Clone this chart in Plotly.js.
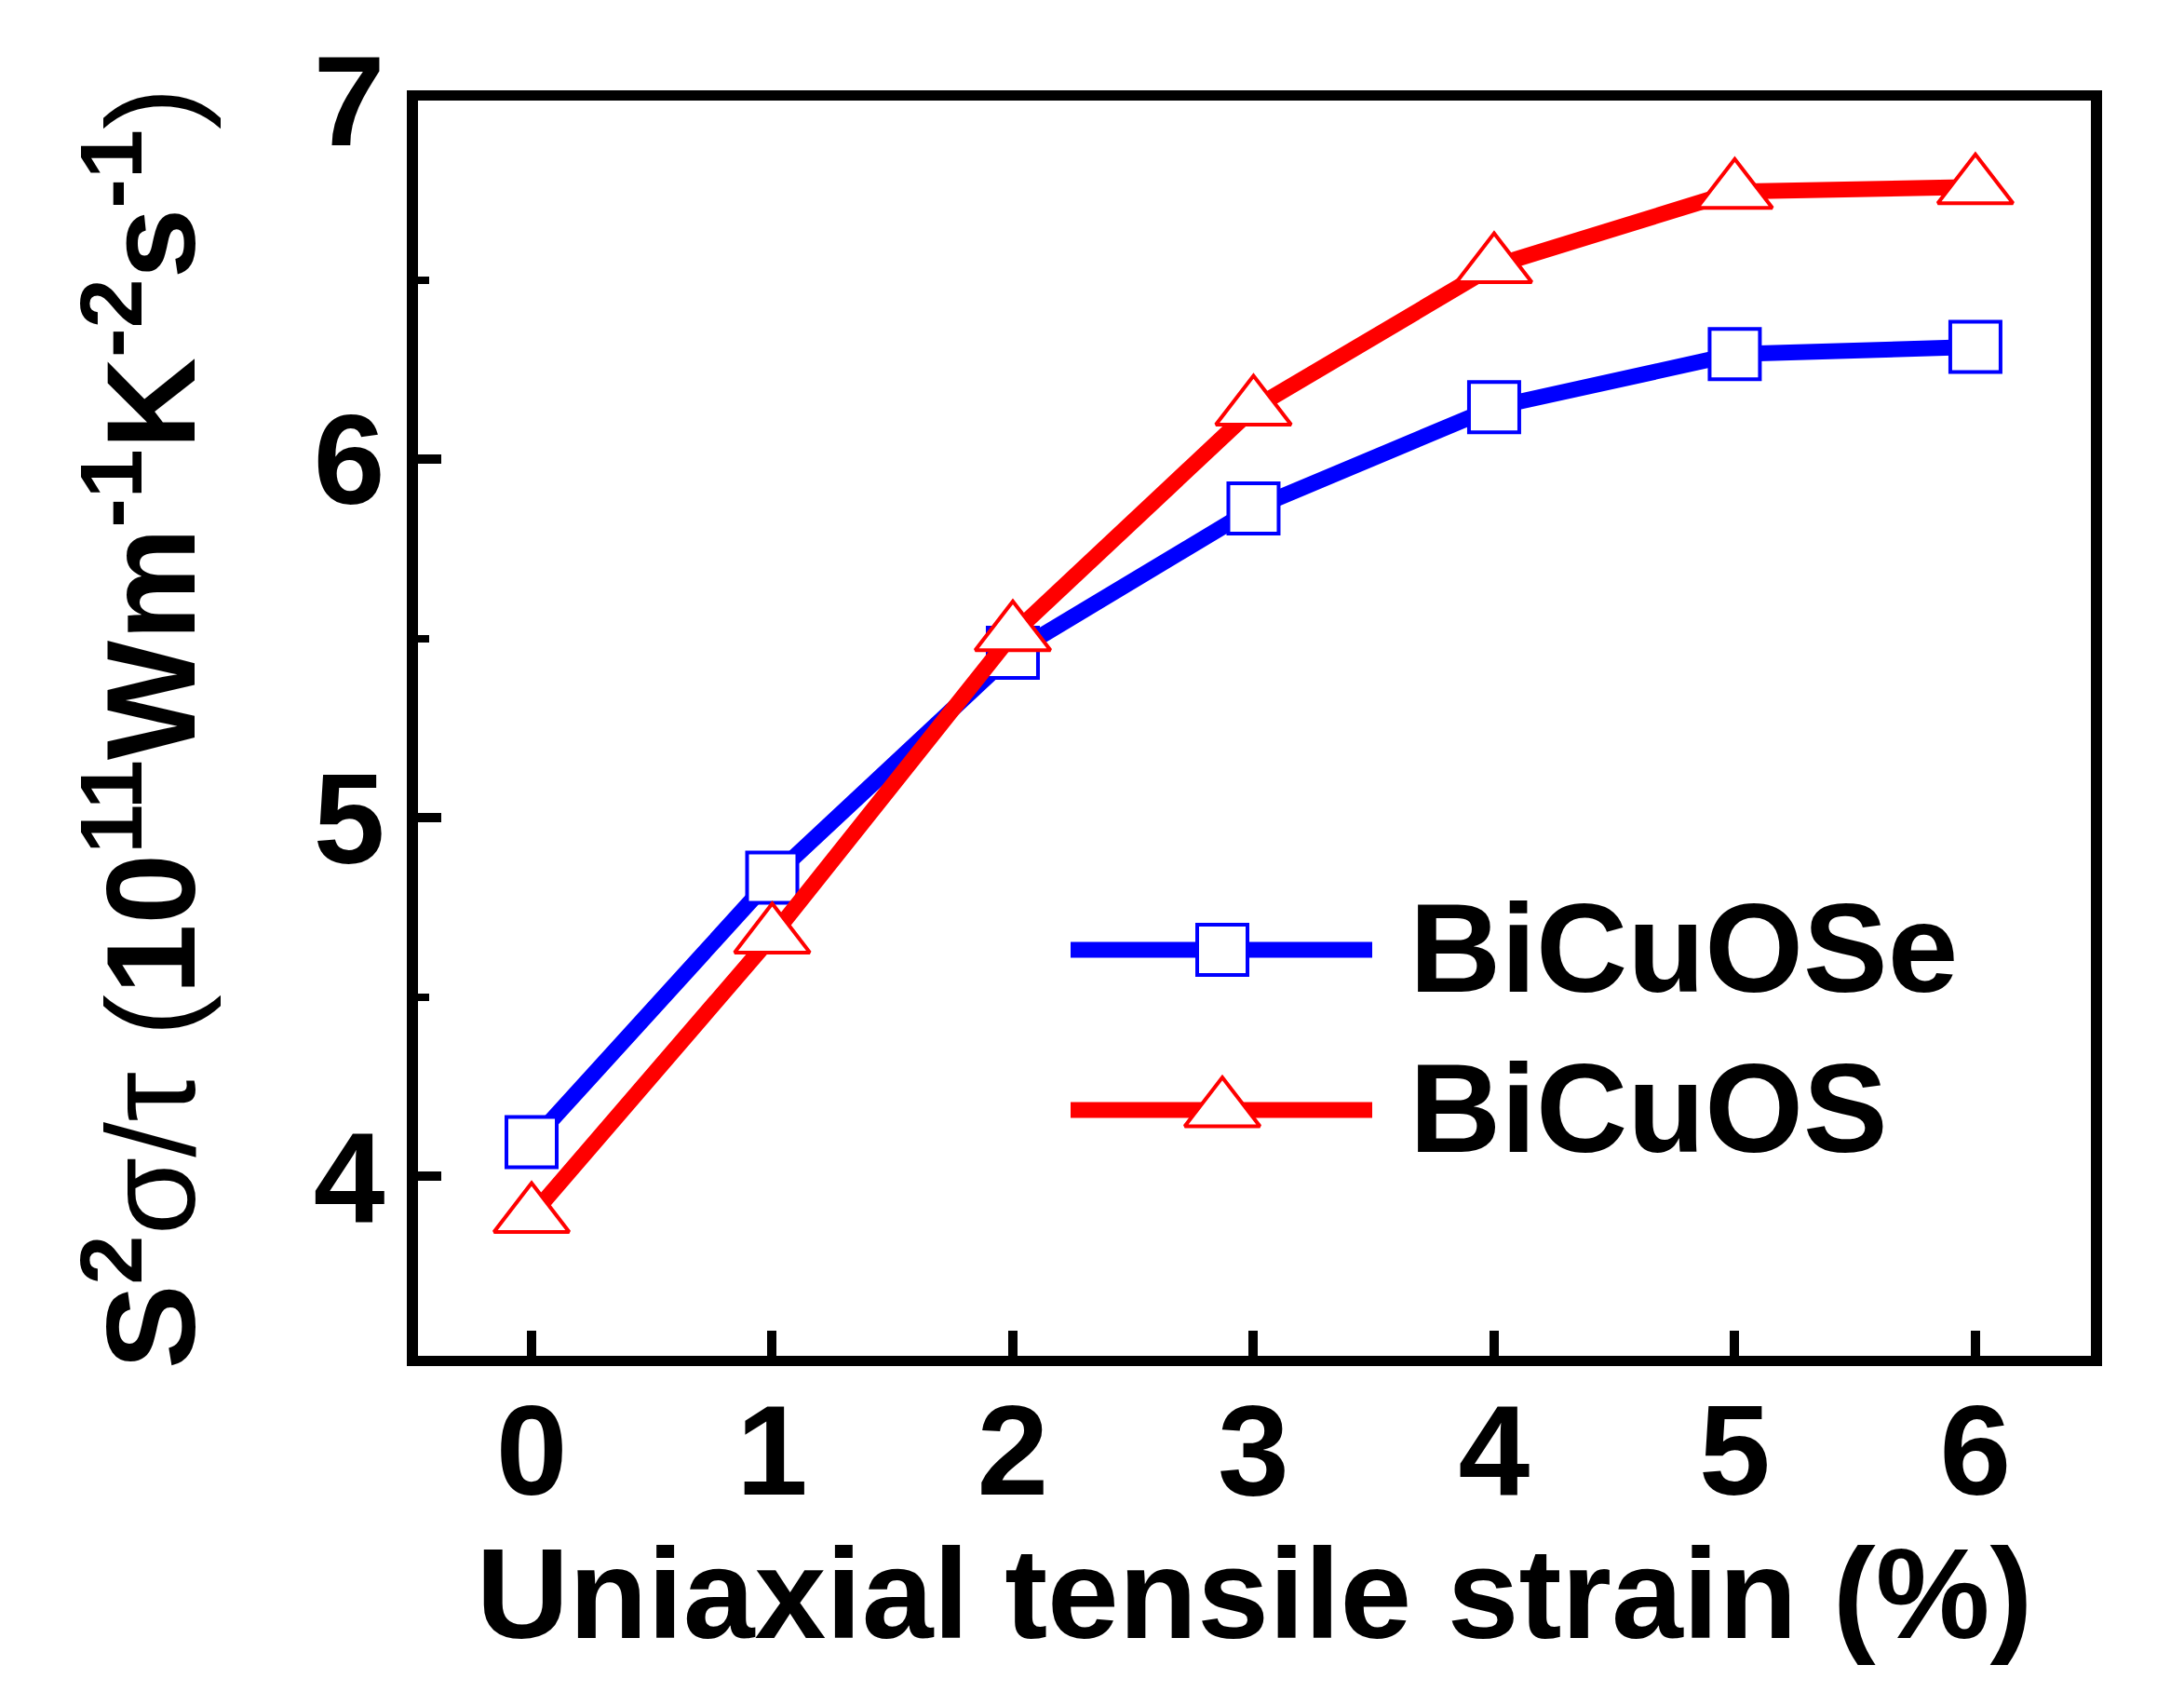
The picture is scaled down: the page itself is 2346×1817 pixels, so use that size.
<!DOCTYPE html>
<html>
<head>
<meta charset="utf-8">
<script src="https://cdn.plot.ly/plotly-3.0.1.min.js"></script>
<style>html,body{margin:0;padding:0;background:#fff;}#chart{width:2346px;height:1817px;}</style>
</head>
<body>
<div id="chart"></div>
<script>
// ---- data ----
const strain = [0, 1, 2, 3, 4, 5, 6];
const bicuose = [4.096, 4.833, 5.460, 5.863, 6.145, 6.293, 6.313];
const bicuos = [3.891, 4.670, 5.513, 6.142, 6.539, 6.746, 6.759];
const seriesNames = ["BiCuOSe", "BiCuOS"];
const xTickVals = [0, 1, 2, 3, 4, 5, 6];
const yTickVals = [4, 5, 6, 7];

const FONT = "Liberation Sans, Arial, sans-serif";
const BLUE = "#0000ff", RED = "#ff0000";

const traces = [
  {
    x: strain, y: bicuose, name: seriesNames[0], type: "scatter", mode: "lines+markers",
    line: {color: BLUE, width: 17},
    marker: {symbol: "square", size: 54, color: "#ffffff", line: {color: BLUE, width: 4}},
    showlegend: false, cliponaxis: false
  },
  {
    x: strain, y: bicuos, name: seriesNames[1], type: "scatter", mode: "lines+markers",
    line: {color: RED, width: 17},
    marker: {symbol: "triangle-up", size: 70, color: "#ffffff", line: {color: RED, width: 4}},
    showlegend: false, cliponaxis: false
  }
];

// ---- custom legend drawn on an overlay axis in plot-area pixel units ----
const legRows = [1020, 1192];
const legX0 = 1150, legX1 = 1474, legXm = 1313;
const legStyles = [
  {color: BLUE, symbol: "square", size: 54},
  {color: RED, symbol: "triangle-up", size: 70}
];
legStyles.forEach((s, i) => {
  traces.push({
    x: [legX0, legX1], y: [legRows[i], legRows[i]], xaxis: "x2", yaxis: "y2",
    mode: "lines", line: {color: s.color, width: 17}, showlegend: false, hoverinfo: "skip"
  });
  traces.push({
    x: [legXm], y: [legRows[i]], xaxis: "x2", yaxis: "y2", mode: "markers",
    marker: {symbol: s.symbol, size: s.size, color: "#ffffff", line: {color: s.color, width: 4}},
    showlegend: false, hoverinfo: "skip"
  });
});

const annotations = seriesNames.map((n, i) => ({
  text: n, xref: "x2", yref: "y2", x: 1512, y: legRows[i] - 2,
  xanchor: "left", yanchor: "middle", showarrow: false,
  font: {family: FONT, size: 136, color: "#000", weight: "bold"}
}));

const layout = {
  width: 2346, height: 1817,
  paper_bgcolor: "#ffffff", plot_bgcolor: "#ffffff",
  margin: {l: 449, r: 100, t: 108, b: 361, pad: 0},
  showlegend: false,
  font: {family: FONT, color: "#000"},
  xaxis: {
    range: [-0.472, 6.48], tickvals: xTickVals, ticktext: xTickVals.map(String),
    ticks: "inside", ticklen: 27, tickwidth: 10, tickcolor: "#000",
    showline: true, linewidth: 11, linecolor: "#000", mirror: true,
    showgrid: false, zeroline: false, automargin: false,
    ticklabelstandoff: -28,
    tickfont: {family: FONT, size: 138, color: "#000", weight: "bold"},
    title: {text: "Uniaxial tensile strain (%)", standoff: 22,
            font: {family: FONT, size: 138, color: "#000", weight: "bold"}}
  },
  yaxis: {
    range: [3.5, 7.0], tickvals: yTickVals, ticktext: yTickVals.map(String),
    ticks: "inside", ticklen: 25, tickwidth: 10, tickcolor: "#000",
    minor: {dtick: 0.5, ticks: "inside", ticklen: 12, tickwidth: 8, tickcolor: "#000", showgrid: false},
    showline: true, linewidth: 12, linecolor: "#000", mirror: true,
    showgrid: false, zeroline: false, automargin: false,
    ticklabelstandoff: -4,
    tickfont: {family: FONT, size: 138, color: "#000", weight: "bold"},
    title: {
      text: 'S<sup>2</sup><span style="font-weight:normal">σ/τ</span> <span style="font-weight:normal">(</span>10<sup>11</sup>Wm<sup>-1</sup>K<sup>-2</sup>s<sup>-1</sup><span style="font-weight:normal">)</span>',
      standoff: 86,
      font: {family: FONT, size: 136, color: "#000", weight: "bold"}
    }
  },
  xaxis2: {overlaying: "x", range: [449, 2246], visible: false, fixedrange: true},
  yaxis2: {overlaying: "y", range: [1456, 108], visible: false, fixedrange: true},
  annotations: annotations
};

Plotly.newPlot("chart", traces, layout, {staticPlot: true, displayModeBar: false});
</script>
</body>
</html>
